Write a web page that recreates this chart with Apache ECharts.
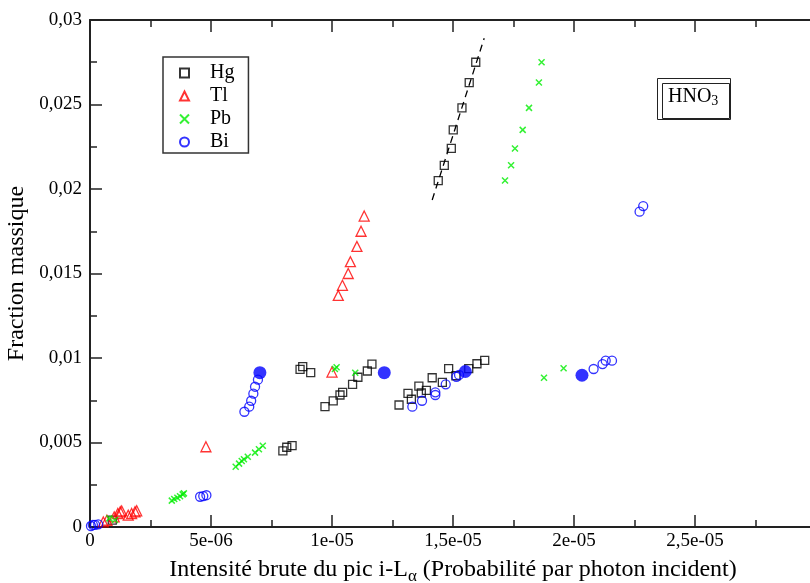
<!DOCTYPE html>
<html><head><meta charset="utf-8">
<script src="https://cdn.jsdelivr.net/npm/echarts@6/dist/echarts.min.js"></script>
<style>html,body{margin:0;padding:0;background:#fff}#c{width:810px;height:583px}</style>
</head><body><div id="c"></div>
<script>
// ---- data (x: intensité brute, y: fraction massique) ----
const hgData = [
  [1.594e-5,0.0275],[1.567e-5,0.0263],[1.537e-5,0.0248],[1.501e-5,0.0235],[1.493e-5,0.0224],[1.464e-5,0.0214],[1.439e-5,0.0205],
  [8.68e-6,0.00933],[8.79e-6,0.00949],[9.12e-6,0.00913],
  [9.71e-6,0.00712],[1.005e-5,0.00746],[1.033e-5,0.00781],[1.044e-5,0.00797],[1.085e-5,0.00844],[1.107e-5,0.00886],[1.146e-5,0.00923],[1.165e-5,0.00964],
  [1.277e-5,0.00722],[1.314e-5,0.00791],[1.328e-5,0.00756],[1.359e-5,0.00833],[1.369e-5,0.00793],[1.390e-5,0.00809],[1.414e-5,0.00883],[1.456e-5,0.00856],
  [1.482e-5,0.00937],[1.512e-5,0.00895],[1.565e-5,0.00937],[1.599e-5,0.00966],[1.631e-5,0.00986],
  [7.97e-6,0.00451],[8.13e-6,0.00472],[8.35e-6,0.00481],
  [9.2e-7,0.00041]
];
const tlData = [
  [1.133e-5,0.0184],[1.120e-5,0.0175],[1.103e-5,0.0166],[1.076e-5,0.0157],[1.067e-5,0.0150],[1.043e-5,0.0143],[1.026e-5,0.0137],
  [1.0e-5,0.00917],[4.79e-6,0.00475],
  [5.5e-7,0.0003],[7e-7,0.0004],[1.0e-6,0.0006],[1.15e-6,0.0008],[1.25e-6,0.0009],[1.31e-6,0.00095],
  [1.58e-6,0.0007],[1.72e-6,0.0008],[1.86e-6,0.0009],[1.93e-6,0.00096]
];
const pbData = [
  [1.866e-5,0.0275],[1.855e-5,0.0263],[1.814e-5,0.0248],[1.788e-5,0.0235],[1.756e-5,0.0224],[1.740e-5,0.0214],[1.715e-5,0.0205],
  [1.019e-5,0.00945],[1.012e-5,0.00935],[1.096e-5,0.00913],[1.876e-5,0.00883],[1.957e-5,0.00939],
  [6.02e-6,0.00357],[6.16e-6,0.00375],[6.27e-6,0.00391],[6.36e-6,0.00401],[6.52e-6,0.00416],[6.82e-6,0.00440],[6.98e-6,0.00460],[7.14e-6,0.00481],
  [3.38e-6,0.00156],[3.48e-6,0.00166],[3.61e-6,0.00173],[3.72e-6,0.00182],[3.83e-6,0.00193],[3.88e-6,0.00199],
  [8.0e-7,0.00051],[1.03e-6,0.00041]
];
const biData = [
  [4e-8,0.00006],[1.2e-7,0.00012],[2.1e-7,0.00012],[3.4e-7,0.00016],
  [4.55e-6,0.00179],[4.68e-6,0.00183],[4.81e-6,0.00188],
  [6.38e-6,0.00682],[6.58e-6,0.00712],[6.66e-6,0.00747],[6.75e-6,0.00789],[6.82e-6,0.00830],[6.94e-6,0.00872],
  [1.332e-5,0.00712],[1.372e-5,0.00747],[1.427e-5,0.00797],[1.427e-5,0.00781],[1.470e-5,0.00844],[1.514e-5,0.00889],[1.525e-5,0.0090],
  [2.081e-5,0.00935],[2.118e-5,0.00964],[2.131e-5,0.00984],[2.157e-5,0.00984],
  [2.271e-5,0.01866],[2.286e-5,0.01899]
];
const biRefData = [[7.02e-6,0.00913],[1.216e-5,0.00913],[1.551e-5,0.0092],[2.033e-5,0.00898]];
const hgFitLine = [[1.414e-5,0.01935],[1.629e-5,0.02892]];
const xTickLabels = ['0','5e-06','1e-05','1,5e-05','2e-05','2,5e-05',''];
const yTickLabels = ['0','0,005','0,01','0,015','0,02','0,025','0,03'];

const FONT = 'Liberation Serif';
const chart = echarts.init(document.getElementById('c'), null, {renderer:'canvas'});
const axisCommon = {
  min:0, axisLine:{show:true, onZero:false, lineStyle:{color:'#222', width:2}},
  axisTick:{inside:true, length:12, lineStyle:{color:'#222', width:1.5}},
  minorTick:{show:true, splitNumber:2, length:7, lineStyle:{color:'#222', width:1.5}},
  splitLine:{show:false}
};
const option = {
  animation:false,
  backgroundColor:'#fff',
  grid:{left:90, top:20, bottom:56, right:-6, containLabel:false, outerBoundsMode:'none'},
  xAxis:[
    Object.assign({}, axisCommon, {
      type:'value', position:'bottom', max:3e-5, interval:5e-6,
      axisLabel:{fontFamily:FONT, fontSize:19, color:'#000', margin:5,
        formatter:v=>xTickLabels[Math.round(v/5e-6)] || ''},
      name:'Intensité brute du pic i-L{sub|α} (Probabilité par photon incident)',
      nameLocation:'middle', nameGap:27,
      nameTextStyle:{fontFamily:FONT, fontSize:24, color:'#000',
        rich:{sub:{fontFamily:FONT, fontSize:17, color:'#000', padding:[14,0,0,0]}}}
    }),
    Object.assign({}, axisCommon, {
      type:'value', position:'top', max:3e-5, interval:5e-6,
      axisLabel:{show:false}
    })
  ],
  yAxis:[
    Object.assign({}, axisCommon, {
      type:'value', max:0.03, interval:0.005,
      axisLabel:{fontFamily:FONT, fontSize:19, color:'#000', margin:8,
        formatter:v=>yTickLabels[Math.round(v/0.005)]},
      name:'Fraction massique', nameLocation:'middle', nameGap:58,
      nameTextStyle:{fontFamily:FONT, fontSize:24, color:'#000'}
    })
  ],
  legend:{
    orient:'vertical', left:163, top:57,
    data:['Hg','Tl','Pb','Bi'],
    borderColor:'#333', borderWidth:1.5, backgroundColor:'#fff',
    padding:[6,14,1,16], itemWidth:9, itemHeight:9, itemGap:3,
    textStyle:{fontFamily:FONT, fontSize:20, color:'#000', padding:[0,0,0,16]}
  },
  graphic:[
    {type:'rect', left:657, top:78, shape:{width:73, height:41}, style:{fill:'#fff', stroke:'#222', lineWidth:1}},
    {type:'rect', left:660, top:81, shape:{width:67, height:35}, style:{fill:'none', stroke:'#222', lineWidth:1}},
    {type:'text', left:668, top:87, style:{text:'HNO{s|3}', fontFamily:FONT, fontSize:20, fill:'#000',
      rich:{s:{fontFamily:FONT, fontSize:14, fill:'#000', padding:[9,0,0,0]}}}}
  ],
  series:[
    {name:'fit', type:'line', data:hgFitLine, symbol:'none', silent:true,
      lineStyle:{color:'#000', width:1.3, type:[7,5]}, z:1},
    {name:'Hg', type:'scatter', data:hgData, symbol:'rect', symbolSize:8,
      itemStyle:{color:'rgba(0,0,0,0)', borderColor:'#000', borderWidth:1.3}},
    {name:'Tl', type:'scatter', data:tlData, symbol:'triangle', symbolSize:10,
      itemStyle:{color:'rgba(0,0,0,0)', borderColor:'#ff0000', borderWidth:1.3}},
    {name:'Pb', type:'scatter', data:pbData, symbol:'path://M0,0L10,10M10,0L0,10', symbolSize:6,
      itemStyle:{color:'#00ee00', borderColor:'#00ee00', borderWidth:1.5}},
    {name:'Bi', type:'scatter', data:biData, symbol:'circle', symbolSize:9,
      itemStyle:{color:'rgba(0,0,0,0)', borderColor:'#0000ff', borderWidth:1.3}},
    {name:'Bi ref', type:'scatter', data:biRefData, symbol:'circle', symbolSize:13,
      itemStyle:{color:'#0000ff'}}
  ]
};
chart.setOption(option);
</script></body></html>
